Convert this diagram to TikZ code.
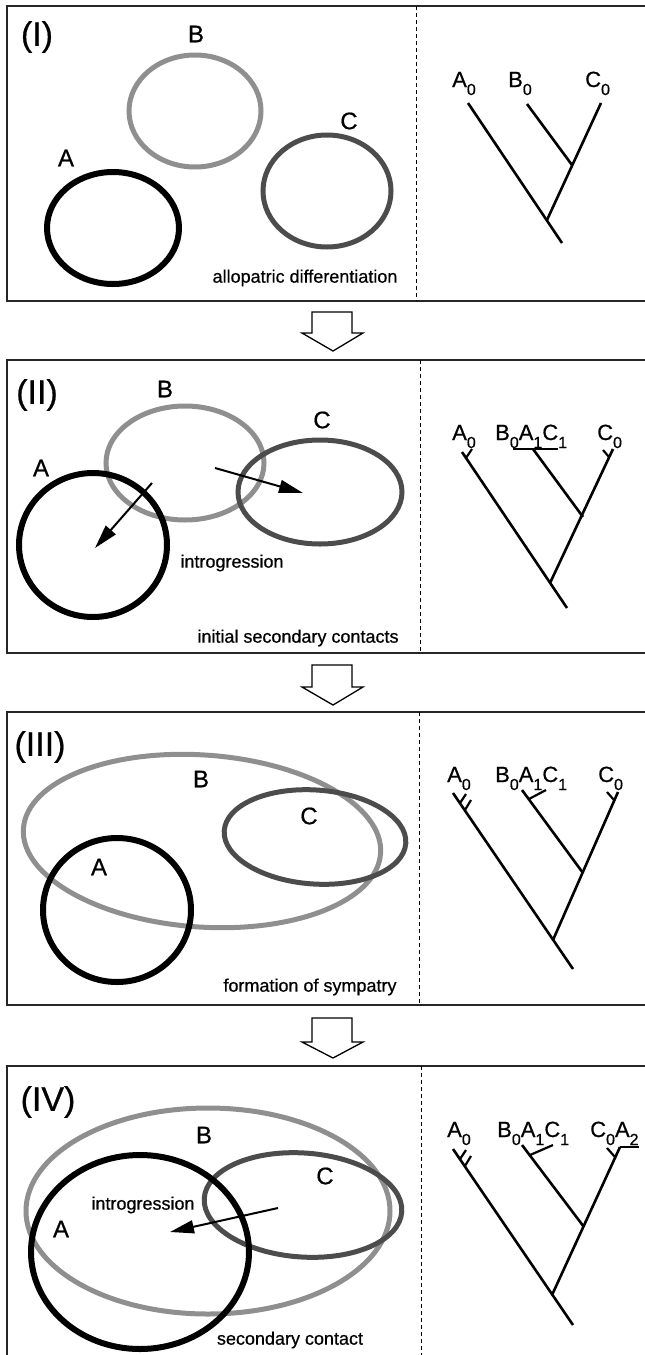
\documentclass[tikz,border=0pt]{standalone}
\usepackage{fontspec}
\setmainfont{Liberation Sans}[FakeBold=0.6]
\usetikzlibrary{arrows.meta}
% lowered subscript used in the taxon labels of the trees
\newcommand\lowsub[1]{\raisebox{-8pt}{\fontsize{16}{16}\selectfont #1}}
\begin{document}
\begin{tikzpicture}[x=1pt,y=-1pt,
  panelframe/.style={line width=1.4pt, draw=black!85},
  divider/.style={line width=1pt, dash pattern=on 4pt off 3pt},
  rangeA/.style={line width=6pt, draw=black},
  rangeB/.style={line width=5pt, draw=black!44},
  rangeC/.style={line width=5pt, draw=black!70},
  branch/.style={line width=2.6pt},
  barb/.style={line width=2.2pt},
  flowarrow/.style={line width=1.3pt, fill=white, line join=miter},
  gene/.style={line width=2pt, -{Triangle[length=24pt,width=13pt]}},
  stagelabel/.style={inner sep=0, font=\fontsize{34}{34}\selectfont},
  rangelabel/.style={inner sep=0, font=\fontsize{24}{24}\selectfont},
  taxonlabel/.style={inner sep=0, anchor=base west, font=\fontsize{22}{22}\selectfont},
  captext/.style={inner sep=0, font=\fontsize{18}{18}\selectfont}
]
\useasboundingbox (0,0) rectangle (645,1355);
\clip (0,0) rectangle (645,1355);

% ---------- panel frames and dividers ----------
\draw[panelframe] (7,6) rectangle (660,301);
\draw[panelframe] (7,360) rectangle (660,653);
\draw[panelframe] (7,712) rectangle (660,1005);
\draw[panelframe] (7,1066) rectangle (660,1370);
\draw[divider] (416,6) -- (416,301);
\draw[divider] (420,360) -- (420,653);
\draw[divider] (419,712) -- (419,1005);
\draw[divider] (421,1066) -- (421,1355);

% ---------- block arrows between stages ----------
\draw[flowarrow] (312,312) -- (352,312) -- (352,333) -- (363,333) -- (333,351) -- (302,333) -- (312,333) -- cycle;
\draw[flowarrow] (312,665) -- (352,665) -- (352,687) -- (363,687) -- (333,705) -- (302,687) -- (312,687) -- cycle;
\draw[flowarrow] (312,1018) -- (352,1018) -- (352,1042) -- (363,1042) -- (333,1058) -- (302,1042) -- (312,1042) -- cycle;

% ================= stage I =================
\node[stagelabel] (s1) at (37,37) {(I)};
\draw[rangeB] (195,111) ellipse [x radius=66, y radius=56];
\draw[rangeC] (327,191) ellipse [x radius=64, y radius=56];
\draw[rangeA] (113,228) ellipse [x radius=66, y radius=56];
\node[rangelabel] (b1) at (196,34) {B};
\node[rangelabel] (c1) at (349,121) {C};
\node[rangelabel] (a1) at (66,158) {A};
\node[captext] (cap1) at (305,278) {allopatric differentiation};
% tree
\node[taxonlabel] (ta1) at (452,87) {A\lowsub{0}};
\node[taxonlabel] (tb1) at (508,87) {B\lowsub{0}};
\node[taxonlabel] (tc1) at (585,87) {C\lowsub{0}};
\coordinate (aT1) at (468,103);
\coordinate (bT1) at (527,104);
\coordinate (cT1) at (601,103);
\coordinate (r1) at (562,243);
\coordinate (j1) at (547,220);
\coordinate (n1) at (572,165);
\draw[branch] (aT1) -- (r1);
\draw[branch] (j1) -- (cT1);
\draw[branch] (bT1) -- (n1);

% ================= stage II =================
\node[stagelabel] (s2) at (37,395) {(II)};
\draw[rangeB] (185,463) ellipse [x radius=79, y radius=57];
\draw[rangeC] (320,492) ellipse [x radius=82, y radius=52];
\draw[rangeA] (93,545) ellipse [x radius=74, y radius=72];
\node[rangelabel] (b2) at (165,389) {B};
\node[rangelabel] (c2) at (322,420) {C};
\node[rangelabel] (a2) at (41,468) {A};
\coordinate (gA2s) at (152,483);
\coordinate (gA2e) at (95,548);
\coordinate (gC2s) at (215,468);
\coordinate (gC2e) at (303,493);
\draw[gene] (gA2s) -- (gA2e);
\draw[gene] (gC2s) -- (gC2e);
\node[captext] (intr2) at (232,563) {introgression};
\node[captext] (cap2) at (298,638) {initial secondary contacts};
% tree
\node[taxonlabel] (ta2) at (452,440) {A\lowsub{0}};
\node[taxonlabel] (tb2) at (495,440) {B\lowsub{0}A\lowsub{1}C\lowsub{1}};
\node[taxonlabel] (tc2) at (597,440) {C\lowsub{0}};
\coordinate (aT2) at (462,452);
\coordinate (bT2) at (533,449);
\coordinate (cT2) at (613,449);
\coordinate (r2) at (567,608);
\coordinate (j2) at (550,583);
\coordinate (n2) at (583,517);
\draw[branch] (aT2) -- (r2);
\draw[branch] (j2) -- (cT2);
\draw[branch] (bT2) -- (n2);
\draw[barb] (513,449) -- (558,449);
\draw[barb] (466,458) -- (472,449);
\draw[barb] (609,457) -- (603,450);

% ================= stage III =================
\node[stagelabel] (s3) at (40,747) {(III)};
\draw[rangeB, rotate around={-4:(202,841)}] (202,841) ellipse [x radius=179, y radius=86];
\draw[rangeC, rotate around={-4:(315,837)}] (315,837) ellipse [x radius=91, y radius=47];
\draw[rangeA] (117,910) ellipse [x radius=74, y radius=72];
\node[rangelabel] (b3) at (201,779) {B};
\node[rangelabel] (c3) at (309,816) {C};
\node[rangelabel] (a3) at (99,867) {A};
\node[captext] (cap3) at (310,987) {formation of sympatry};
% tree
\node[taxonlabel] (ta3) at (447,782) {A\lowsub{0}};
\node[taxonlabel] (tb3) at (495,782) {B\lowsub{0}A\lowsub{1}C\lowsub{1}};
\node[taxonlabel] (tc3) at (598,782) {C\lowsub{0}};
\coordinate (aT3) at (453,793);
\coordinate (bT3) at (522,790);
\coordinate (cT3) at (618,792);
\coordinate (r3) at (573,969);
\coordinate (j3) at (553,940);
\coordinate (n3) at (583,873);
\draw[branch] (aT3) -- (r3);
\draw[branch] (j3) -- (cT3);
\draw[branch] (bT3) -- (n3);
\draw[barb] (460,803) -- (466,794);
\draw[barb] (465,810) -- (471,800);
\draw[barb] (529,799) -- (546,790);
\draw[barb] (614,800) -- (607,792);

% ================= stage IV =================
\node[stagelabel] (s4) at (48,1102) {(IV)};
\draw[rangeB] (208,1211) ellipse [x radius=182, y radius=103];
\draw[rangeC, rotate around={-4:(303,1205)}] (303,1205) ellipse [x radius=99, y radius=52];
\draw[rangeA] (140,1252) ellipse [x radius=109, y radius=97];
\node[rangelabel] (b4) at (204,1135) {B};
\node[rangelabel] (c4) at (325,1176) {C};
\node[rangelabel] (a4) at (61,1229) {A};
\coordinate (gA4s) at (278,1208);
\coordinate (gA4e) at (170,1232);
\draw[gene] (gA4s) -- (gA4e);
\node[captext] (intr4) at (143,1205) {introgression};
\node[captext] (cap4) at (290,1340) {secondary contact};
% tree
\node[taxonlabel] (ta4) at (447,1137) {A\lowsub{0}};
\node[taxonlabel] (tb4) at (497,1137) {B\lowsub{0}A\lowsub{1}C\lowsub{1}};
\node[taxonlabel] (tc4) at (590,1137) {C\lowsub{0}A\lowsub{2}};
\coordinate (aT4) at (453,1149);
\coordinate (bT4) at (522,1145);
\coordinate (cT4) at (620,1147);
\coordinate (r4) at (573,1325);
\coordinate (j4) at (552,1295);
\coordinate (n4) at (584,1227);
\draw[branch] (aT4) -- (r4);
\draw[branch] (j4) -- (cT4);
\draw[branch] (bT4) -- (n4);
\draw[barb] (460,1159) -- (466,1150);
\draw[barb] (465,1166) -- (471,1156);
\draw[barb] (530,1155) -- (553,1145);
\draw[barb] (615,1157) -- (607,1148);
\draw[barb] (620,1147) -- (639,1147);
\end{tikzpicture}
\end{document}
